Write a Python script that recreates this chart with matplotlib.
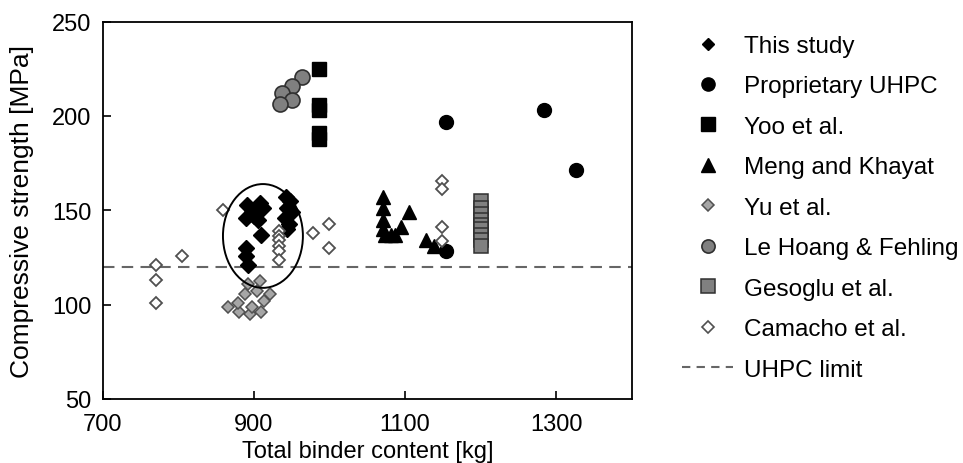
import matplotlib
matplotlib.use("Agg")
import matplotlib.pyplot as plt
from matplotlib.lines import Line2D
from matplotlib.patches import Ellipse

plt.rcParams['font.family'] = ['Liberation Sans', 'DejaVu Sans']

# ---- data ----
this_x = [891, 897, 908, 912, 889, 900, 906, 910, 890, 890, 892, 942, 948, 944, 950, 946, 941, 944]
this_y = [153, 150, 154, 151, 146, 147, 145, 137, 130, 126, 121, 157, 155, 151, 149, 143, 146, 140]

prop_x = [1154, 1283, 1326, 1154]
prop_y = [197, 203, 171.5, 128.5]

yoo_x = [986, 986, 986, 986, 986]
yoo_y = [225, 206, 203, 191, 188]

meng_x = [1071, 1071, 1071, 1071, 1073, 1081, 1086, 1095, 1105, 1127, 1138]
meng_y = [157, 151, 145, 140, 137, 137, 137, 141, 149, 134, 131]

yu_x = [866, 881, 895, 910, 897, 879, 888, 904, 921, 914, 892, 908]
yu_y = [98.6, 96, 95, 96, 98.6, 101, 105.6, 107.4, 105.6, 102, 111, 112.7]

le_x = [964, 950, 937, 951, 935]
le_y = [220.5, 216, 212, 208.5, 206.5]

ges_x = [1200, 1200, 1200, 1200, 1200, 1200, 1200, 1200, 1200]
ges_y = [155, 151, 148, 145, 142, 140, 137, 134, 131]

cam_x = [770, 770, 770, 805, 859, 933, 933, 933, 933, 933, 933, 978, 1000, 1000, 1149, 1149, 1149, 1149]
cam_y = [121, 113, 101, 126, 150, 139, 136.5, 134, 131, 128.5, 123.5, 138, 142.5, 130, 165.5, 161.5, 141, 133.5]

uhpc_limit = 120

labels = ["This study", "Proprietary UHPC", "Yoo et al.", "Meng and Khayat", "Yu et al.",
          "Le Hoang & Fehling", "Gesoglu et al.", "Camacho et al.", "UHPC limit"]

xticks = [700, 900, 1100, 1300]
yticks = [50, 100, 150, 200, 250]

# ---- figure ----
fig = plt.figure(figsize=(9.63, 4.64), dpi=100)
ax = fig.add_axes([102.6 / 963, 1 - 400 / 464, (632 - 102.6) / 963, (400 - 22.6) / 464])

ax.axhline(uhpc_limit, color='#666666', lw=1.5, ls=(0, (5.5, 3.5)), zorder=1)

ax.plot(this_x, this_y, ls='none', marker='D', ms=8.5, color='black', mec='black', zorder=3)
ax.plot(prop_x, prop_y, ls='none', marker='o', ms=10, color='black', zorder=3)
ax.plot(yoo_x, yoo_y, ls='none', marker='s', ms=10.5, color='black', zorder=3)
ax.plot(meng_x, meng_y, ls='none', marker='^', ms=10.5, color='black', zorder=3)
ax.plot(yu_x, yu_y, ls='none', marker='D', ms=6.5, mfc='#a6a6a6', mec='#505050', mew=1.1, zorder=3)
ax.plot(le_x, le_y, ls='none', marker='o', ms=10.8, mfc='#808080', mec='#303030', mew=1.2, zorder=3)
ax.plot(ges_x, ges_y, ls='none', marker='s', ms=10.2, mfc='#808080', mec='#303030', mew=1.1, zorder=3)
ax.plot(cam_x, cam_y, ls='none', marker='D', ms=6.3, mfc='white', mec='#505050', mew=1.3, zorder=3)

ax.add_patch(Ellipse((912, 136.4), 105.7, 55, fill=False, ec='black', lw=1.4, zorder=4))

ax.set_xlim(700, 1400)
ax.set_ylim(50, 250)
ax.set_xticks(xticks)
ax.set_yticks(yticks)
ax.tick_params(direction='in', length=6, width=1.2, labelsize=17, colors='black')
ax.tick_params(axis='y', pad=8)
ax.tick_params(axis='x', pad=10)
for s in ax.spines.values():
    s.set_linewidth(1.3)
    s.set_color('black')

ax.set_xlabel("Total binder content [kg]", fontsize=17)
ax.xaxis.set_label_coords(0.5, -0.108)
ax.set_ylabel("Compressive strength [MPa]", fontsize=19)
ax.yaxis.set_label_coords(-0.13, 0.5)

handles = [
    Line2D([], [], ls='none', marker='D', ms=6, color='black'),
    Line2D([], [], ls='none', marker='o', ms=9.5, color='black'),
    Line2D([], [], ls='none', marker='s', ms=9.5, color='black'),
    Line2D([], [], ls='none', marker='^', ms=9.5, color='black'),
    Line2D([], [], ls='none', marker='D', ms=6.5, mfc='#a6a6a6', mec='#505050', mew=1.1),
    Line2D([], [], ls='none', marker='o', ms=9.5, mfc='#808080', mec='#303030', mew=1.2),
    Line2D([], [], ls='none', marker='s', ms=9.5, mfc='#808080', mec='#303030', mew=1.1),
    Line2D([], [], ls='none', marker='D', ms=6.5, mfc='white', mec='#505050', mew=1.2),
    Line2D([], [], color='#666666', lw=1.5, ls=(0, (4, 3))),
]
fig.legend(handles, labels, loc='upper left', bbox_to_anchor=(682 / 963, 1 - 36 / 464),
           frameon=False, fontsize=17.5, borderpad=0, borderaxespad=0,
           handlelength=2.1, handletextpad=0.45, labelspacing=0.76)

fig.savefig("out.png", dpi=100)
